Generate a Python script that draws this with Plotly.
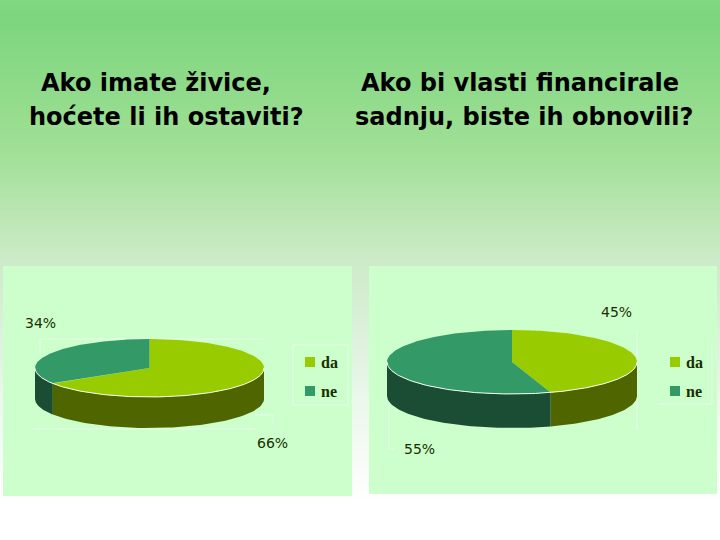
import numpy as np
import plotly.graph_objects as go

categories = ["da", "ne"]
left_values = [66, 34]
right_values = [45, 55]
left_title = ["Ako imate živice,", "hoćete li ih ostaviti?"]
right_title = ["Ako bi vlasti financirale", "sadnju, biste ih obnovili?"]

TOP = ["#99CC00", "#339966"]
SIDE = ["#4F6600", "#1A4D33"]
PANEL = "#CCFFCC"
INK = "#1A2E00"

fig = go.Figure()

# background gradient
ys = np.linspace(0, 540, 136)
stops_y = [0, 20, 150, 260, 400, 500, 540]
stops_c = [(128, 216, 128), (126, 214, 126), (160, 224, 150), (205, 235, 200), (235, 248, 235), (255, 255, 255), (255, 255, 255)]
rgb = [np.interp(ys, stops_y, [c[i] for c in stops_c]) for i in range(3)]
t = (ys - ys[0]) / (ys[-1] - ys[0])
colorscale = [[float(a), f"rgb({int(r)},{int(g)},{int(b)})"] for a, r, g, b in zip(t, *rgb)]
fig.add_trace(go.Heatmap(x=[0, 720], y=ys, z=np.column_stack([ys, ys]), colorscale=colorscale,
                         showscale=False, hoverinfo="skip", zsmooth="best"))


def poly(x, y, color, name):
    fig.add_trace(go.Scatter(x=x, y=y, mode="lines", fill="toself", fillcolor=color,
                             line=dict(width=0, color=color), hoverinfo="skip", name=name))


def thin(x, y, color="#E8FFE8"):
    fig.add_trace(go.Scatter(x=x, y=y, mode="lines", line=dict(width=1, color=color), hoverinfo="skip"))


def pie(values, cx, cy, rx, ry, depth):
    total = sum(values)
    edges = np.cumsum([0] + values) / total * 2 * np.pi
    px = lambda a: cx + rx * np.sin(a)
    py = lambda a: cy - ry * np.cos(a)
    for i in range(len(values)):
        lo, hi = max(edges[i], np.pi / 2), min(edges[i + 1], 3 * np.pi / 2)
        if hi > lo:
            a = np.linspace(lo, hi, 80)
            poly(np.r_[px(a), px(a[::-1])], np.r_[py(a), py(a[::-1]) + depth], SIDE[i], categories[i])
    for i in range(len(values)):
        a = np.linspace(edges[i], edges[i + 1], 160)
        poly(np.r_[cx, px(a), cx], np.r_[cy, py(a), cy], TOP[i], categories[i])
    a = np.linspace(np.pi / 2, 3 * np.pi / 2, 160)
    thin(px(a), py(a), "#F4FFF0")


# panels
for x0, x1, y0, y1 in [(3, 352, 266, 496), (369, 717, 266, 494)]:
    poly([x0, x1, x1, x0, x0], [y0, y0, y1, y1, y0], PANEL, "panel")

# faint plot-area lines
thin([60, 264], [339, 339]); thin([40, 40, 60], [351, 339, 339])
thin([33, 255], [429, 429]); thin([255, 273, 273], [415, 415, 424])
thin([637, 637], [330, 430]); thin([389, 389, 395], [405, 449, 449])
thin([293, 348, 348, 293, 293], [345, 345, 405, 405, 345])
thin([657, 712, 712], [404, 404, 345])

pie(left_values, 149.5, 368, 114.5, 29, 31)
pie(right_values, 512, 362, 125, 32, 34)

# legend keys
for lx, tx in [(310, 329), (675, 694)]:
    fig.add_trace(go.Scatter(x=[lx, lx], y=[362, 391], mode="markers",
                             marker=dict(symbol="square", size=10, color=TOP, line_width=0), hoverinfo="skip"))
    for y, c in zip([362, 391], categories):
        fig.add_annotation(x=tx, y=y, text=f"<b>{c}</b>", showarrow=False,
                           font=dict(family="Liberation Serif", size=16, color=INK))

# value labels
labels = [(40, 323, left_values[1]), (272, 443, left_values[0]), (616, 312, right_values[0]), (419, 449, right_values[1])]
for x, y, v in labels:
    fig.add_annotation(x=x, y=y, text=f"{v}%", showarrow=False, font=dict(family="DejaVu Sans", size=14, color=INK))

# titles
for (x, y), s in zip([(156, 83), (166, 117), (520, 83), (524, 117)], left_title + right_title):
    fig.add_annotation(x=x, y=y, text=f"<b>{s}</b>", showarrow=False, font=dict(family="DejaVu Sans", size=24, color="#000000"))

fig.update_xaxes(range=[0, 720], visible=False, domain=[0, 1])
fig.update_yaxes(range=[540, 0], visible=False, domain=[0, 1])
fig.update_layout(width=720, height=540, margin=dict(l=0, r=0, t=0, b=0), showlegend=False,
                  paper_bgcolor="white", plot_bgcolor="white")
fig.write_html("out.html", config={"displayModeBar": False},
               post_script="document.body.style.margin='0';document.documentElement.style.overflow='hidden';")
